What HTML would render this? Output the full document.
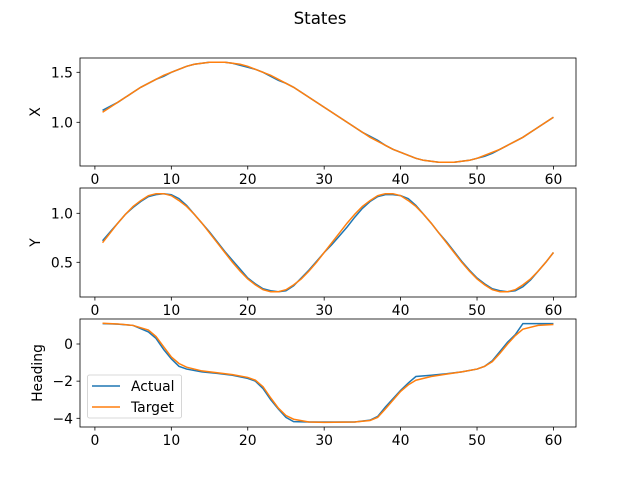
<!DOCTYPE html>
<html><head><meta charset="utf-8"><style>
body{margin:0;background:#fff}
svg{display:block;font-family:"DejaVu Sans","Liberation Sans",sans-serif}
</style></head><body>
<svg id="fig" width="640" height="480">
<text x="320" y="24" text-anchor="middle" font-size="16.7">States</text>
</svg>
<script>
const ticksX=[0,10,20,30,40,50,60];
const xTarget=[1.10,1.15,1.20,1.25,1.30,1.35,1.39,1.43,1.47,1.50,1.53,1.56,1.58,1.59,1.60,1.60,1.60,1.59,1.58,1.56,1.53,1.50,1.47,1.43,1.39,1.35,1.30,1.25,1.20,1.15,1.10,1.05,1.00,0.95,0.90,0.85,0.81,0.77,0.73,0.70,0.67,0.64,0.62,0.61,0.60,0.60,0.60,0.61,0.62,0.64,0.67,0.70,0.73,0.77,0.81,0.85,0.90,0.95,1.00,1.05];
const xActual=[1.12,1.16,1.20,1.25,1.30,1.35,1.39,1.43,1.46,1.50,1.53,1.56,1.58,1.59,1.60,1.60,1.60,1.59,1.57,1.55,1.53,1.50,1.46,1.42,1.39,1.35,1.30,1.25,1.20,1.15,1.10,1.05,1.00,0.95,0.90,0.86,0.82,0.77,0.73,0.70,0.67,0.64,0.62,0.61,0.60,0.60,0.60,0.61,0.62,0.64,0.66,0.69,0.73,0.77,0.81,0.85,0.90,0.95,1.00,1.05];
const yTarget=[0.70,0.80,0.90,0.99,1.07,1.13,1.18,1.20,1.20,1.18,1.13,1.07,0.99,0.90,0.80,0.70,0.60,0.50,0.41,0.33,0.27,0.22,0.20,0.20,0.22,0.27,0.33,0.41,0.50,0.60,0.70,0.80,0.90,0.99,1.07,1.13,1.18,1.20,1.20,1.18,1.13,1.07,0.99,0.90,0.80,0.70,0.60,0.50,0.41,0.33,0.27,0.22,0.20,0.20,0.22,0.27,0.33,0.41,0.50,0.60];
const yActual=[0.72,0.81,0.90,0.99,1.06,1.12,1.17,1.19,1.20,1.19,1.15,1.08,0.99,0.90,0.81,0.71,0.61,0.52,0.43,0.34,0.28,0.23,0.21,0.20,0.21,0.26,0.34,0.42,0.51,0.60,0.68,0.77,0.86,0.96,1.05,1.12,1.17,1.19,1.19,1.18,1.15,1.08,0.99,0.90,0.80,0.71,0.61,0.51,0.42,0.34,0.28,0.23,0.21,0.20,0.21,0.25,0.32,0.41,0.50,0.60];
const hT=[1,3,5,7,8,9,10,11,12,14,16,18,20,21,22,23,24,25,26,28,30,34,36,37,38,40,41,42,44,46,48,50,51,52,53,54,55,56,58,60];
const hTarget=[1.12,1.08,1.0,0.75,0.4,-0.15,-0.7,-1.05,-1.25,-1.45,-1.55,-1.65,-1.8,-1.95,-2.3,-2.9,-3.45,-3.85,-4.05,-4.2,-4.22,-4.2,-4.12,-3.95,-3.5,-2.55,-2.2,-1.95,-1.75,-1.62,-1.5,-1.35,-1.2,-0.95,-0.5,0.0,0.45,0.8,1.0,1.05];
const hActual=[1.1,1.07,1.0,0.65,0.3,-0.3,-0.8,-1.2,-1.35,-1.5,-1.58,-1.68,-1.85,-2.0,-2.4,-3.0,-3.5,-3.95,-4.18,-4.2,-4.2,-4.2,-4.1,-3.9,-3.4,-2.5,-2.1,-1.75,-1.68,-1.6,-1.5,-1.35,-1.2,-0.9,-0.4,0.1,0.5,1.1,1.1,1.1];
const tIdx=xTarget.map((_,i)=>i+1);
const svg=document.getElementById('fig');const NS='http://www.w3.org/2000/svg';
function mk(tag,at){const e=document.createElementNS(NS,tag);for(const k in at)e.setAttribute(k,at[k]);svg.appendChild(e);return e;}
const L=80,R=576;
const sx=t=>L+(t+1.95)/64.9*(R-L);
function panel(top,bot,v0,p0,v1,p1,ticks,label,name,series,ylx){
  const sy=v=>p0+(v-v0)*(p1-p0)/(v1-v0);
  series.forEach(s=>{
    const d=s.x.map((t,i)=>(i?'L':'M')+sx(t).toFixed(2)+','+sy(s.v[i]).toFixed(2)).join('');
    const p=mk('path',{d:d,fill:'none',stroke:s.c,'stroke-width':1.5});
    
    
  });
  const f=mk('rect',{x:L,y:top,width:R-L,height:bot-top,fill:'none',stroke:'#000','stroke-width':0.8});
  
  
  ticksX.forEach(t=>{const x=sx(t);mk('line',{x1:x,x2:x,y1:bot,y2:bot+3.5,stroke:'#000','stroke-width':0.8});
    const tx=mk('text',{x:x,y:bot+18,'text-anchor':'middle','font-size':13.9});tx.textContent=t;
    
    });
  ticks.forEach(v=>{const y=sy(v);mk('line',{x1:L-3.5,x2:L,y1:y,y2:y,stroke:'#000','stroke-width':0.8});
    const tx=mk('text',{x:L-7,y:y+5,'text-anchor':'end','font-size':13.9});tx.textContent=(ticks.some(q=>q%1))?v.toFixed(1):String(v).replace('-','\u2212');
    
    });
  const yl=mk('text',{x:0,y:0,'text-anchor':'middle','font-size':13.9,transform:`translate(${ylx},${(top+bot)/2}) rotate(-90)`});
  yl.textContent=label;
  
  
}
panel(58,166,1.0,122.3,1.5,72.3,[1.0,1.5],'X','x',[{x:tIdx,v:xActual,c:'#1f77b4',n:'actual'},{x:tIdx,v:xTarget,c:'#ff7f0e',n:'target'}],40);
panel(188,297,0.5,262.3,1.0,213.3,[0.5,1.0],'Y','y',[{x:tIdx,v:yActual,c:'#1f77b4',n:'actual'},{x:tIdx,v:yTarget,c:'#ff7f0e',n:'target'}],40);
panel(319,427,0,344,-4,418.3,[-4,-2,0],'Heading','heading',[{x:hT,v:hActual,c:'#1f77b4',n:'actual'},{x:hT,v:hTarget,c:'#ff7f0e',n:'target'}],42);
const lg=mk('rect',{x:87.5,y:375,width:94,height:43,rx:2,fill:'#fff','fill-opacity':0.8,stroke:'#ccc','stroke-width':0.8});


[['Actual','#1f77b4',386],['Target','#ff7f0e',407]].forEach(e=>{
  mk('line',{x1:92,x2:120,y1:e[2],y2:e[2],stroke:e[1],'stroke-width':1.5});
  const t=mk('text',{x:131,y:e[2]+5,'font-size':13.9});t.textContent=e[0];
  
  
});
</script>
</body></html>
